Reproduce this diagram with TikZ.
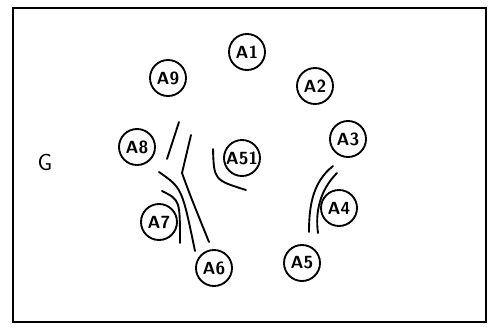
\documentclass[tikz,border=0pt]{standalone}
\usetikzlibrary{positioning}
\begin{document}
\begin{tikzpicture}[x=0.03cm,y=-0.03cm,line width=1.6pt,line cap=round,
  vertex/.style={draw,circle,minimum size=1.08cm,inner sep=0pt,font=\sffamily\bfseries\fontsize{15}{15}\selectfont}]
\useasboundingbox (0,0) rectangle (490,332);
\draw (13,8) rectangle (486,322);
\node[font=\sffamily\fontsize{20}{20}\selectfont] (g) at (45,162) {G};
\node[vertex] (a1) at (247,52) {A1};
\node[vertex] (a2) at (315,86) {A2};
\node[vertex] (a3) at (348,139) {A3};
\node[vertex] (a4) at (339,208) {A4};
\node[vertex] (a5) at (302,263) {A5};
\node[vertex] (a6) at (214,268) {A6};
\node[vertex] (a7) at (159,222) {A7};
\node[vertex] (a8) at (137,147) {A8};
\node[vertex] (a9) at (168,78) {A9};
\node[vertex] (a51) at (242,158) {A51};
\draw (179,122) -- (167,159);
\draw (191,135) -- (182,173) .. controls (190,195) .. (209,242);
\draw (159,172) .. controls (182,188) .. (195,251);
\draw (162,191) .. controls (180,200) .. (180,243);
\draw (213,149) .. controls (214,180) .. (246,190);
\draw (333,166) .. controls (313,182) and (309,205) .. (309,232);
\draw (337,173) .. controls (320,190) and (315,212) .. (318,233);
\end{tikzpicture}
\end{document}
